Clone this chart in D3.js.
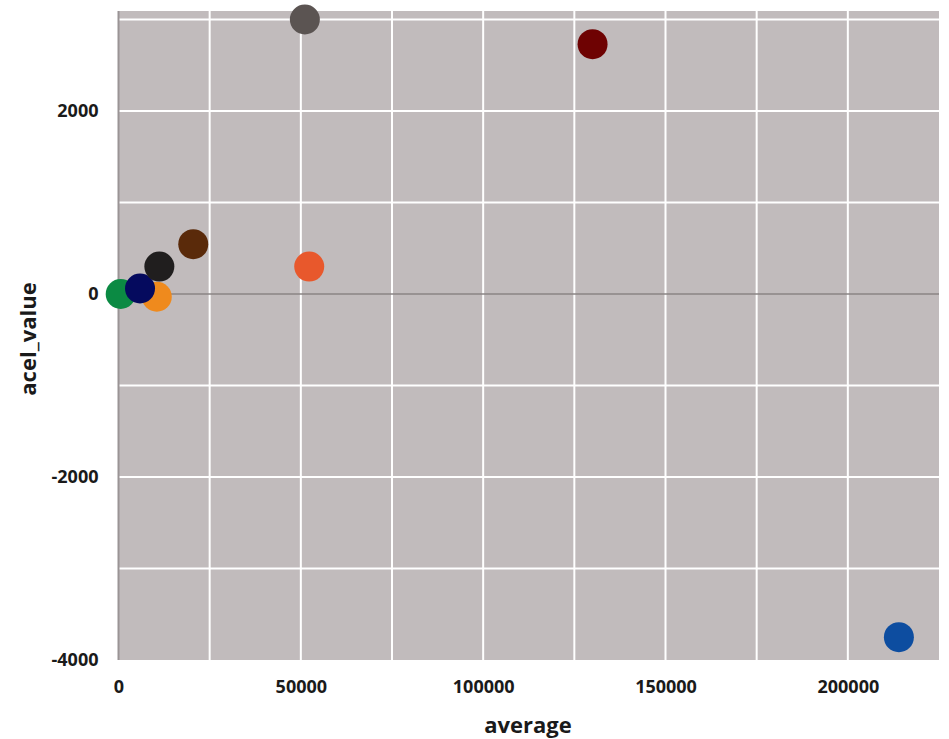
<!DOCTYPE html>
<html>
<head>
<meta charset="utf-8">
<script src="https://cdn.jsdelivr.net/npm/d3@7"></script>
<style>
  html, body { margin: 0; padding: 0; background: #ffffff; }
  svg { display: block; }
  text { font-family: "Open Sans", "DejaVu Sans", sans-serif; font-weight: 700; fill: #1a1a1a; }
</style>
</head>
<body>
<svg id="chart" width="949" height="739"></svg>
<script>
// Data
const names   = ["green", "orange", "navy", "black", "brown", "orangered", "gray", "darkred", "blue"];
const average = [600, 10500, 5900, 11200, 20500, 52300, 51100, 130000, 214000];
const acel    = [0, -30, 60, 300, 545, 300, 3000, 2730, -3750];
const colors  = ["#0b8a43", "#ef8a1d", "#050a5e", "#201e1e", "#5a2a0a", "#e8582c", "#5b5452", "#6e0202", "#0d4da0"];
const xTicks  = [0, 50000, 100000, 150000, 200000];
const xGrid   = [25000, 50000, 75000, 100000, 125000, 150000, 175000, 200000];
const yTicks  = [-4000, -2000, 0, 2000];
const yGrid   = [-3000, -2000, -1000, 1000, 2000, 3000];

const W = 949, H = 739;
const margin = { top: 11, right: 10, bottom: 79, left: 118.5 };

const svg = d3.select("#chart");

const x = d3.scaleLinear().domain([0, 225000]).range([margin.left, W - margin.right]);
const y = d3.scaleLinear().domain([-4000, 3093]).range([H - margin.bottom, margin.top]);

// panel
svg.append("rect")
  .attr("x", margin.left).attr("y", margin.top)
  .attr("width", W - margin.right - margin.left)
  .attr("height", H - margin.bottom - margin.top)
  .attr("fill", "#c1bbbc");

// grid lines
svg.append("g").selectAll("line").data(xGrid).join("line")
  .attr("x1", d => x(d)).attr("x2", d => x(d))
  .attr("y1", margin.top).attr("y2", H - margin.bottom)
  .attr("stroke", "#ffffff").attr("stroke-width", 2);
svg.append("g").selectAll("line").data(yGrid).join("line")
  .attr("x1", margin.left).attr("x2", W - margin.right)
  .attr("y1", d => y(d)).attr("y2", d => y(d))
  .attr("stroke", "#ffffff").attr("stroke-width", 2);

// zero line
svg.append("line")
  .attr("x1", margin.left).attr("x2", W - margin.right)
  .attr("y1", y(0)).attr("y2", y(0))
  .attr("stroke", "#8a8485").attr("stroke-width", 1.6);

// left axis line
svg.append("line")
  .attr("x1", margin.left).attr("x2", margin.left)
  .attr("y1", margin.top).attr("y2", H - margin.bottom)
  .attr("stroke", "#9a9495").attr("stroke-width", 2);

const fmt = d => String(d);

// axes (labels only)
const xAxis = d3.axisBottom(x).tickValues(xTicks).tickFormat(fmt).tickSize(0).tickPadding(0);
const gx = svg.append("g").attr("transform", `translate(0,${H - margin.bottom + 20})`).call(xAxis);
gx.select(".domain").remove();
gx.selectAll("text").attr("font-size", 18).attr("dy", "0.71em")
  .style("font-family", "'Open Sans', sans-serif").style("font-weight", 700).attr("fill", "#1a1a1a");

const yAxis = d3.axisLeft(y).tickValues(yTicks).tickFormat(fmt).tickSize(0).tickPadding(0);
const gy = svg.append("g").attr("transform", `translate(${margin.left - 20},0)`).call(yAxis);
gy.select(".domain").remove();
gy.selectAll("text").attr("font-size", 18)
  .style("font-family", "'Open Sans', sans-serif").style("font-weight", 700).attr("fill", "#1a1a1a");

// axis titles
svg.append("text")
  .attr("x", 528).attr("y", 733)
  .attr("text-anchor", "middle").attr("font-size", 22)
  .text("average");
svg.append("text")
  .attr("transform", "translate(36,339) rotate(-90)")
  .attr("text-anchor", "middle").attr("font-size", 22)
  .text("acel_value");

// points
const idx = d3.range(names.length);
svg.append("g").selectAll("circle").data(idx).join("circle")
  .attr("cx", i => x(average[i]))
  .attr("cy", i => y(acel[i]))
  .attr("r", 15)
  .attr("fill", i => colors[i]);
</script>
</body>
</html>
